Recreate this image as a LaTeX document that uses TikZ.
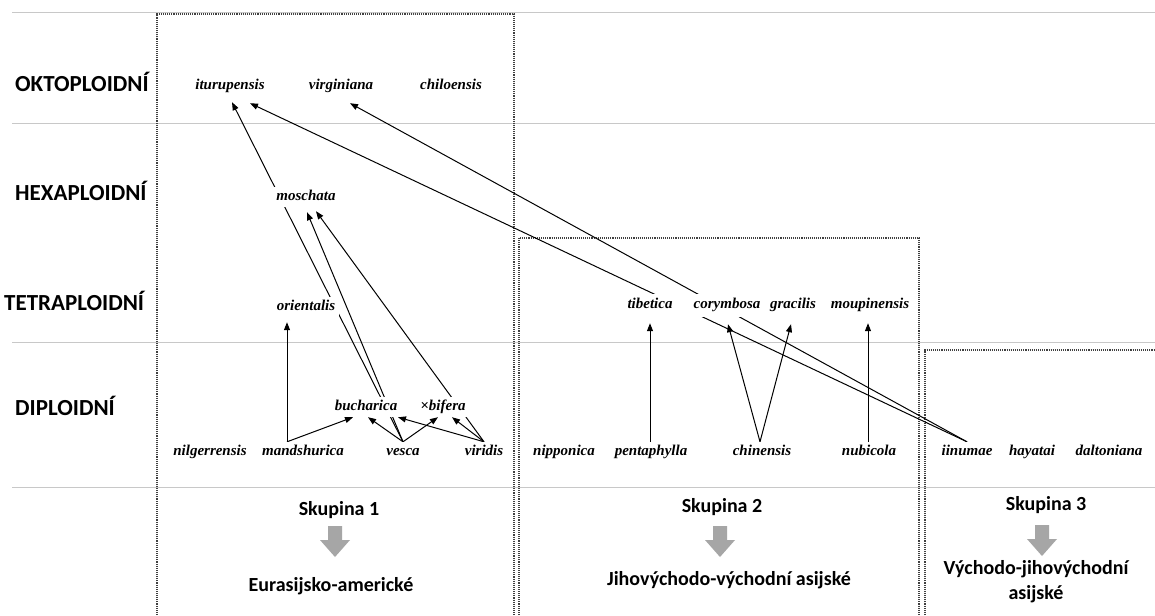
\documentclass[tikz,border=0pt]{standalone}
\usepackage{fontspec}
\newfontfamily\calib{Carlito}
\newfontfamily\tms{Liberation Serif}
\usetikzlibrary{arrows.meta}
\pgfdeclarelayer{bg}
\pgfsetlayers{bg,main}
\definecolor{gridc}{HTML}{C8C8C8}
\definecolor{boxc}{HTML}{404040}
\definecolor{arrc}{HTML}{A6A6A6}
\tikzset{
  sp/.style={font=\tms\bfseries\itshape\fontsize{15}{18}\selectfont, fill=white,
    inner xsep=4pt, inner ysep=3.5pt, text height=10pt, text depth=3pt},
  rowlab/.style={font=\calib\bfseries\fontsize{23}{27}\selectfont, anchor=west,
    inner sep=0pt, text height=14pt, text depth=0pt},
  grp/.style={font=\calib\bfseries\fontsize{20}{25}\selectfont, inner sep=0pt, align=center},
  con/.style={line width=1pt, -{Triangle[length=8pt,width=6pt]}},
  gridln/.style={gridc, line width=1pt},
  grpbox/.style={boxc, densely dotted, line width=1.1pt},
  downarr/.pic={\fill[arrc] (-7,0) -- (7,0) -- (7,14) -- (15,14) -- (0,31) -- (-15,14) -- (-7,14) -- cycle;}
}
\begin{document}
\begin{tikzpicture}[x=1pt,y=-1pt]
\useasboundingbox (0,0) rectangle (1155,615);

% white band behind the tetraploid row of group 2
\fill[white] (622,294) rectangle (915,317);

% row labels
\node[rowlab] (okt) at (15,85) {OKTOPLOIDNÍ};
\node[rowlab] (hex) at (15,193) {HEXAPLOIDNÍ};
\node[rowlab] (tet) at (4,303) {TETRAPLOIDNÍ};
\node[rowlab] (dip) at (15,408) {DIPLOIDNÍ};

% species
\node[sp] (itur) at (230,86) {iturupensis};
\node[sp] (virg) at (341,86) {virginiana};
\node[sp] (chil) at (451,86) {chiloensis};
\node[sp] (mosch) at (306,197) {moschata};
\node[sp] (orient) at (306,307) {orientalis};
\node[sp] (buch) at (366,407) {bucharica};
\node[sp] (bif) at (443,407) {×bifera};
\node[sp] (nilg) at (210,452) {nilgerrensis};
\node[sp] (mand) at (303,452) {mandshurica};
\node[sp] (vesca) at (403,452) {vesca};
\node[sp] (viri) at (484,452) {viridis};
\node[sp] (tib) at (650,305) {tibetica};
\node[sp] (cory) at (727,305) {corymbosa};
\node[sp] (grac) at (793,305) {gracilis};
\node[sp] (moup) at (870,305) {moupinensis};
\node[sp] (nipp) at (564,452) {nipponica};
\node[sp] (penta) at (651,452) {pentaphylla};
\node[sp] (chin) at (762,452) {chinensis};
\node[sp] (nubi) at (869,452) {nubicola};
\node[sp] (iinu) at (967,452) {iinumae};
\node[sp] (haya) at (1032,452) {hayatai};
\node[sp] (dalt) at (1109,452) {daltoniana};

% group texts
\node[grp] (s1) at (339,510) {Skupina 1};
\node[grp] (e1) at (331,586) {Eurasijsko-americké};
\node[grp] (s2) at (722,507) {Skupina 2};
\node[grp] (e2) at (729,580) {Jihovýchodo-východní asijské};
\node[grp] (s3) at (1046,505) {Skupina 3};
\node[grp] (e3) at (1036,582) {Východo-jihovýchodní\\asijské};
\pic at (335,526) {downarr};
\pic at (720,526) {downarr};
\pic at (1042,525) {downarr};

\begin{pgfonlayer}{bg}
  \fill[white] (0,0) rectangle (1155,615);
  % grid lines
  \draw[gridln] (12,13) -- (1155,13);
  \draw[gridln] (12,123) -- (1155,123);
  \draw[gridln] (12,342) -- (1155,342);
  \draw[gridln] (12,487) -- (1155,487);
  % group boxes
  \draw[grpbox] (157,615) -- (157,14) -- (514,14) -- (514,615);
  \draw[grpbox] (519,615) -- (519,238) -- (919,238) -- (919,615);
  \draw[grpbox] (925,615) -- (925,350) -- (1155,350);
  % connectors
  \draw[con] (vesca.north) -- ([xshift=2pt,yshift=-6pt]itur.south);
  \draw[con] (vesca.north) -- ([xshift=1pt,yshift=-5pt]mosch.south);
  \draw[con] (viri.north) -- ([xshift=10pt,yshift=-4pt]mosch.south);
  \draw[con] (viri.north) -- ([xshift=9pt]bif.south);
  \draw[con] (vesca.north) -- ([xshift=-5pt]bif.south);
  \draw[con] (viri.north) -- ([xshift=32pt]buch.south);
  \draw[con] (vesca.north) -- ([xshift=2pt]buch.south);
  \draw[con] ([xshift=-16pt]mand.north) -- ([xshift=-13pt]buch.south);
  \draw[con] ([xshift=-16pt]mand.north) -- ([xshift=-19pt,yshift=-5pt]orient.south);
  \draw[con] ([xshift=-1pt]penta.north) -- ([xshift=0pt,yshift=-8pt]tib.south);
  \draw[con] ([xshift=-2pt]chin.north) -- ([xshift=1pt,yshift=-9pt]cory.south);
  \draw[con] ([xshift=-2pt]chin.north) -- ([xshift=-2pt,yshift=-9pt]grac.south);
  \draw[con] ([xshift=-1pt]nubi.north) -- ([xshift=-2pt,yshift=-8pt]moup.south);
  \draw[con] (iinu.north) -- ([xshift=20pt,yshift=-7pt]itur.south);
  \draw[con] (iinu.north) -- ([xshift=9pt,yshift=-7pt]virg.south);
\end{pgfonlayer}
\end{tikzpicture}
\end{document}
